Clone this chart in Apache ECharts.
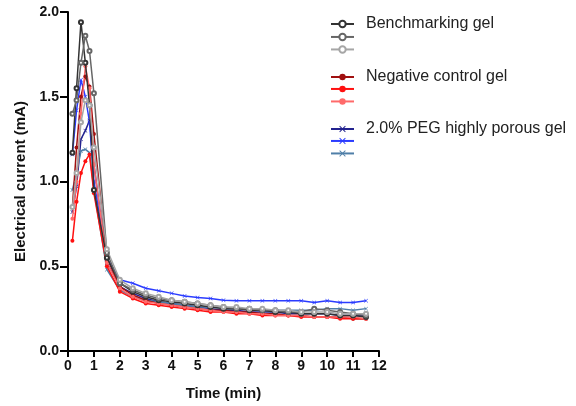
<!DOCTYPE html>
<html><head><meta charset="utf-8">
<script src="https://cdn.jsdelivr.net/npm/echarts@6/dist/echarts.min.js"></script>
<style>html,body{margin:0;padding:0;background:#fff}#c{width:576px;height:406px}</style>
</head><body><div id="c"></div>
<script>
const times = [0.17,0.33,0.5,0.67,0.83,1.0,1.5,2,2.5,3,3.5,4,4.5,5,5.5,6,6.5,7,7.5,8,8.5,9,9.5,10,10.5,11,11.5];
const xTicks = [0,1,2,3,4,5,6,7,8,9,10,11,12];
const yTicks = [0.0,0.5,1.0,1.5,2.0];

const bench1 = [1.17,1.55,1.94,1.70,1.45,0.95,0.55,0.40,0.35,0.32,0.30,0.29,0.28,0.27,0.26,0.25,0.25,0.24,0.24,0.23,0.23,0.22,0.22,0.22,0.21,0.21,0.20];
const bench2 = [1.40,1.48,1.70,1.86,1.77,1.52,0.58,0.40,0.36,0.33,0.31,0.30,0.29,0.28,0.27,0.26,0.25,0.25,0.24,0.24,0.23,0.23,0.25,0.24,0.23,0.22,0.21];
const bench3 = [0.85,1.05,1.35,1.48,1.45,1.20,0.60,0.42,0.37,0.34,0.32,0.30,0.29,0.28,0.27,0.26,0.26,0.25,0.25,0.24,0.24,0.23,0.23,0.23,0.22,0.22,0.22];

const neg1 = [0.85,1.20,1.50,1.62,1.56,1.28,0.55,0.38,0.33,0.30,0.28,0.27,0.26,0.25,0.24,0.24,0.23,0.23,0.22,0.22,0.21,0.21,0.20,0.20,0.20,0.19,0.19];
const neg2 = [0.65,0.88,1.05,1.12,1.16,0.93,0.50,0.35,0.31,0.28,0.27,0.26,0.25,0.24,0.23,0.23,0.22,0.22,0.21,0.21,0.21,0.20,0.20,0.20,0.19,0.19,0.19];
const neg3 = [0.78,1.00,1.40,1.68,1.55,1.10,0.52,0.37,0.32,0.29,0.28,0.27,0.26,0.25,0.24,0.23,0.23,0.22,0.22,0.21,0.21,0.21,0.20,0.20,0.20,0.20,0.19];

const peg1 = [0.82,0.97,1.25,1.30,1.36,1.10,0.52,0.38,0.34,0.31,0.29,0.28,0.27,0.26,0.25,0.24,0.24,0.23,0.23,0.23,0.22,0.22,0.22,0.22,0.21,0.21,0.21];
const peg2 = [1.16,1.42,1.60,1.50,1.35,1.00,0.55,0.42,0.40,0.37,0.355,0.34,0.325,0.315,0.31,0.30,0.296,0.296,0.296,0.296,0.296,0.296,0.286,0.297,0.286,0.286,0.297];
const peg3 = [0.95,1.05,1.18,1.19,1.17,0.95,0.48,0.36,0.32,0.30,0.29,0.28,0.27,0.26,0.26,0.25,0.25,0.25,0.24,0.24,0.24,0.24,0.24,0.25,0.25,0.24,0.25];

const groupLabels = ['Benchmarking gel','Negative control gel','2.0% PEG highly porous gel'];

const X_SYM = 'path://M0,1L1,0L5,4L9,0L10,1L6,5L10,9L9,10L5,6L1,10L0,9L4,5Z';

const defs = [
  {name:groupLabels[0], data:bench1, color:'#333333', symbol:'emptyCircle', g:0},
  {name:groupLabels[0]+' 2', data:bench2, color:'#666666', symbol:'emptyCircle', g:0},
  {name:groupLabels[0]+' 3', data:bench3, color:'#a6a6a6', symbol:'emptyCircle', g:0},
  {name:groupLabels[1], data:neg1, color:'#a01010', symbol:'circle', g:1},
  {name:groupLabels[1]+' 2', data:neg2, color:'#ff1010', symbol:'circle', g:1},
  {name:groupLabels[1]+' 3', data:neg3, color:'#ff6a6a', symbol:'circle', g:1},
  {name:groupLabels[2], data:peg1, color:'#23238f', symbol:X_SYM, g:2},
  {name:groupLabels[2]+' 2', data:peg2, color:'#2b3cff', symbol:X_SYM, g:2},
  {name:groupLabels[2]+' 3', data:peg3, color:'#4f7fa8', symbol:X_SYM, g:2}
];

const series = defs.map(d => ({
  name: d.name, type:'line',
  data: times.map((t,i)=>[t,d.data[i]]),
  symbol: d.symbol, symbolSize: 4,
  showSymbol:true,
  lineStyle:{color:d.color,width:1.5},
  itemStyle:{color:d.color, borderColor:d.color, borderWidth: d.symbol==='emptyCircle'?1:0},
  emphasis:{disabled:true},
  z: 10 - d.g
}));

// legend row centres (layout)
const legendRowY = [23,35.5,48, 76,88.5,101, 128,140.5,153];
const legends = defs.map((d,i) => {
  const labeled = groupLabels.includes(d.name);
  return {
    orient:'vertical', left:330, top: legendRowY[i] - (labeled ? 7 : 2.75), padding:0,
    itemWidth:23, itemHeight:8,
    data:[d.name],
    formatter: n => groupLabels.includes(n) ? n : '',
    textStyle:{fontFamily:'Liberation Sans, Arial', fontSize:16, lineHeight:8, color:'#222', padding:[0,0,0,7]},
    selectedMode:false
  };
});

const axisLine = {show:true, lineStyle:{color:'#000', width:2}};
const axisTick = {show:true, length:6, lineStyle:{color:'#000', width:2}};
const labelStyle = {fontFamily:'Liberation Sans, Arial', fontWeight:'bold', fontSize:14, color:'#111'};

const chart = echarts.init(document.getElementById('c'), null, {renderer:'canvas'});
chart.setOption({
  animation:false,
  backgroundColor:'#fff',
  grid:{left:68, right:197, top:12, bottom:54},
  legend: legends,
  xAxis:{type:'value', min:xTicks[0], max:xTicks[xTicks.length-1], interval:1,
    name:'Time (min)', nameLocation:'middle', nameGap:35,
    nameTextStyle:{fontFamily:'Liberation Sans, Arial', fontWeight:'bold', fontSize:15, color:'#111'},
    axisLine, axisTick, splitLine:{show:false},
    axisLabel:{...labelStyle, margin:8}},
  yAxis:{type:'value', min:yTicks[0], max:yTicks[yTicks.length-1], interval:0.5,
    name:'Electrical current (mA)', nameLocation:'middle', nameGap:40,
    nameTextStyle:{fontFamily:'Liberation Sans, Arial', fontWeight:'bold', fontSize:15, color:'#111'},
    axisLine, axisTick:{...axisTick, length:8}, splitLine:{show:false},
    axisLabel:{...labelStyle, margin:9, formatter:v=>v.toFixed(1)}},
  series
});
</script></body></html>
